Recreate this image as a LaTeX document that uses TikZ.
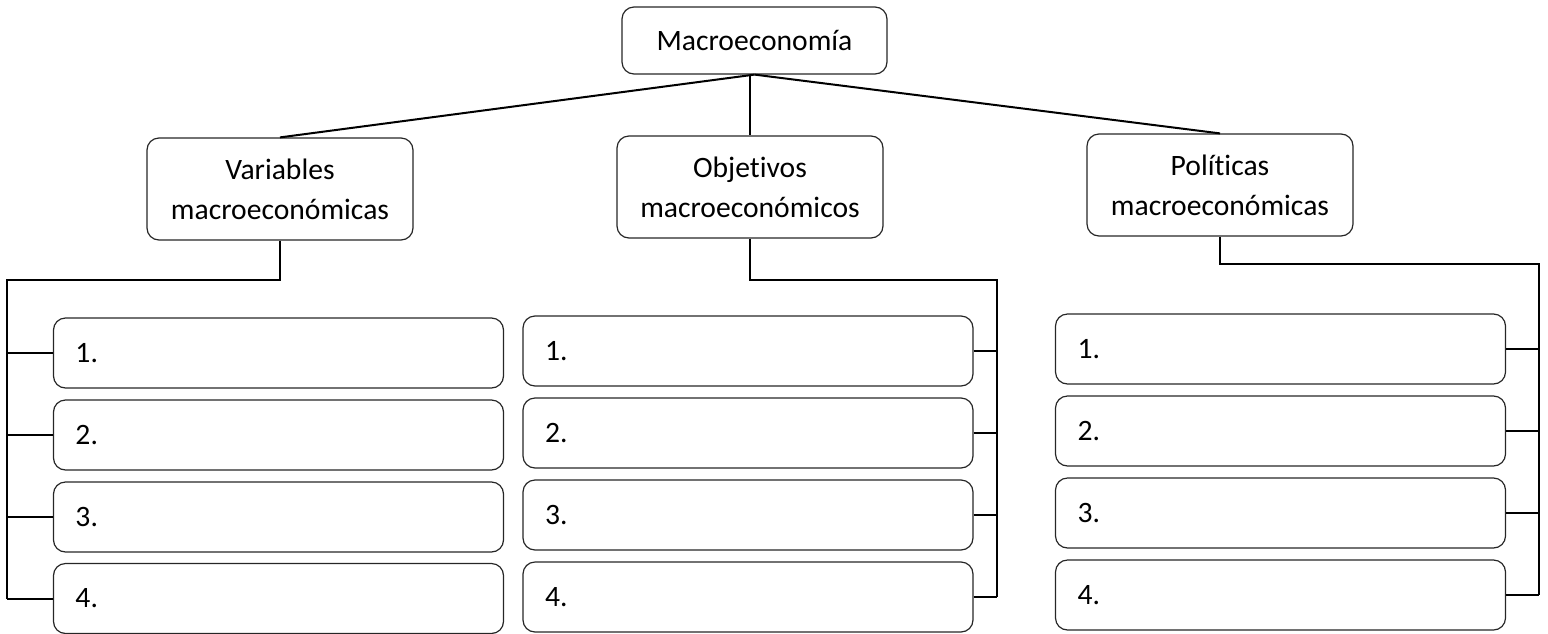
\documentclass[tikz,border=0pt]{standalone}
\usepackage{fontspec}
\setmainfont{Carlito}[Ligatures=NoCommon]
\tikzset{
  head/.style={draw=black!85, line width=0.6pt, rounded corners=6pt, minimum width=133pt, minimum height=51pt, align=center, font=\fontsize{14.8}{20}\selectfont},
  item/.style={draw=black!85, line width=0.6pt, rounded corners=6pt, minimum height=35pt, text width=203pt, inner xsep=11pt, align=left, font=\fontsize{14.8}{17}\selectfont},
  link/.style={line width=1pt}
}
\begin{document}
\begin{tikzpicture}[x=0.5pt,y=-0.5pt]
    \useasboundingbox (0,0) rectangle (1548,633);
    % top and second level
    \node[head, minimum height=33.5pt, minimum width=132.5pt] (macro) at (754.5,40.5) {Macroeconomía};
    \node[head] (vars) at (280,189) {Variables\\macroeconómicas};
    \node[head] (objs) at (750,187) {Objetivos\\macroeconómicos};
    \node[head] (pols) at (1220,185) {Políticas\\macroeconómicas};
    \draw[link] (macro.south) -- (vars.north);
    \draw[link] (macro.south -| objs.north) -- (objs.north);
    \draw[link] (macro.south) -- (pols.north);
    % variables
    \node[item] (v1) at (278.5,353) {1.};
    \node[item] (v2) at (278.5,435) {2.};
    \node[item] (v3) at (278.5,517) {3.};
    \node[item] (v4) at (278.5,598.5) {4.};
    \coordinate (vcorner) at (7,280);
    \draw[link] (vars.south) |- (vcorner) -- (v4.west -| vcorner);
    \draw[link] (v1.west) -- (v1.west -| vcorner);
    \draw[link] (v2.west) -- (v2.west -| vcorner);
    \draw[link] (v3.west) -- (v3.west -| vcorner);
    \draw[link] (v4.west) -- (v4.west -| vcorner);
    % objetivos
    \node[item] (o1) at (748,351) {1.};
    \node[item] (o2) at (748,433) {2.};
    \node[item] (o3) at (748,515) {3.};
    \node[item] (o4) at (748,597) {4.};
    \coordinate (ocorner) at (997,280);
    \draw[link] (objs.south) |- (ocorner) -- (o4.east -| ocorner);
    \draw[link] (o1.east) -- (o1.east -| ocorner);
    \draw[link] (o2.east) -- (o2.east -| ocorner);
    \draw[link] (o3.east) -- (o3.east -| ocorner);
    \draw[link] (o4.east) -- (o4.east -| ocorner);
    % politicas
    \node[item] (p1) at (1280.5,349) {1.};
    \node[item] (p2) at (1280.5,431) {2.};
    \node[item] (p3) at (1280.5,513) {3.};
    \node[item] (p4) at (1280.5,595) {4.};
    \coordinate (pcorner) at (1539,264);
    \draw[link] (pols.south) |- (pcorner) -- (p4.east -| pcorner);
    \draw[link] (p1.east) -- (p1.east -| pcorner);
    \draw[link] (p2.east) -- (p2.east -| pcorner);
    \draw[link] (p3.east) -- (p3.east -| pcorner);
    \draw[link] (p4.east) -- (p4.east -| pcorner);
\end{tikzpicture}
\end{document}
